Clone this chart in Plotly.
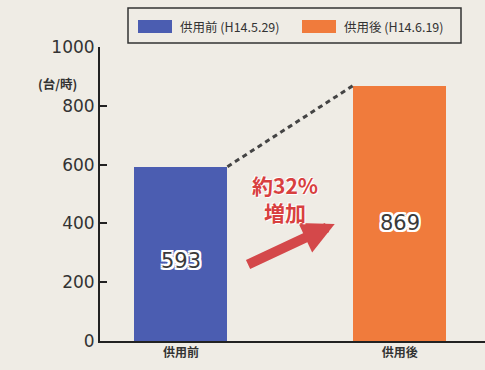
import plotly.graph_objects as go

categories = ["供用前", "供用後"]
values = [593, 869]
legend_labels = ["供用前 (H14.5.29)", "供用後 (H14.6.19)"]
bar_colors = ["#4b5db1", "#f07b3c"]
y_ticks = [0, 200, 400, 600, 800, 1000]
unit_label = "(台/時)"
increase_label = "<b>約32%</b><br><b>増加</b>"

W, H = 485, 370
ML, MR, MT, MB = 100, 0, 47, 29
PW, PH = W - ML - MR, H - MT - MB

def px(xp):
    return (xp - ML) / PW

def py(yp):
    return (H - MB - yp) / PH

xpos = list(range(len(categories)))
bar_w = 0.425
font = "Noto Sans CJK JP"
bg = "#efece5"

fig = go.Figure()
fig.add_trace(go.Bar(
    x=xpos, y=values, width=bar_w,
    marker=dict(color=bar_colors, line_width=0),
    showlegend=False, hoverinfo="skip",
))

# dashed connector between bar tops
fig.add_trace(go.Scatter(
    x=[xpos[0] + bar_w / 2, xpos[1] - bar_w / 2], y=values,
    mode="lines", line=dict(color="#444444", width=3, dash="5px,4px"),
    showlegend=False, hoverinfo="skip",
))

annotations = []
outline = ", ".join(f"{a}px {b}px 0 #fff" for a in (-2, 0, 2) for b in (-2, 0, 2) if (a, b) != (0, 0))
for i, v in enumerate(values):
    annotations.append(dict(
        x=xpos[i], y=v * 0.46, text=str(v), showarrow=False,
        font=dict(family="DejaVu Sans", size=21, color="#3a3a3a", shadow=outline),
    ))

# increase arrow
annotations.append(dict(
    x=0.703, y=398, ax=0.30, ay=258, xref="x", yref="y", axref="x", ayref="y",
    text="", showarrow=True, arrowhead=2, arrowsize=0.65, arrowwidth=10,
    arrowcolor="#d4484a", standoff=0,
))
annotations.append(dict(
    x=0.475, y=486, text=increase_label, showarrow=False,
    font=dict(family=font, size=21, color="#d8403f",
              shadow="1px 1px 0 #fff, -1px -1px 0 #fff"),
    align="center",
))

# unit label
annotations.append(dict(
    x=px(36), y=py(72), xref="paper", yref="paper", text="<b>" + unit_label + "</b>",
    showarrow=False, font=dict(family=font, size=12.5, color="#333333"),
))

shapes = []
# legend box
shapes.append(dict(type="rect", xref="paper", yref="paper",
                   x0=px(128), x1=px(461), y0=py(43), y1=py(8),
                   line=dict(color="#333333", width=1.5), fillcolor="rgba(0,0,0,0)"))
sw_x = [138, 302]
for i, lab in enumerate(legend_labels):
    shapes.append(dict(type="rect", xref="paper", yref="paper",
                       x0=px(sw_x[i]), x1=px(sw_x[i] + 34), y0=py(33), y1=py(20),
                       line_width=0, fillcolor=bar_colors[i]))
    annotations.append(dict(
        x=px(sw_x[i] + 40), y=py(26.5), xref="paper", yref="paper",
        xanchor="left", yanchor="middle", text=lab, showarrow=False,
        font=dict(family=font, size=12.5, color="#333333"),
    ))

fig.update_layout(
    width=W, height=H,
    margin=dict(l=ML, r=MR, t=MT, b=MB),
    paper_bgcolor=bg, plot_bgcolor=bg,
    bargap=0, annotations=annotations, shapes=shapes,
    xaxis=dict(
        range=[-0.37, 1.39], tickvals=xpos, ticktext=["<b>" + c + "</b>" for c in categories],
        showline=True, linecolor="#222222", linewidth=2,
        showgrid=False, zeroline=False, ticks="", fixedrange=True,
        tickfont=dict(family=font, size=12, color="#333333"),
    ),
    yaxis=dict(
        range=[0, 1000], tickvals=y_ticks,
        showline=True, linecolor="#222222", linewidth=2,
        showgrid=False, zeroline=False, ticks="inside", ticklen=7,
        tickcolor="#222222", tickwidth=1.5,
        tickfont=dict(family="DejaVu Sans", size=17, color="#333333"),
    ),
)

fig.write_html("out.html")
